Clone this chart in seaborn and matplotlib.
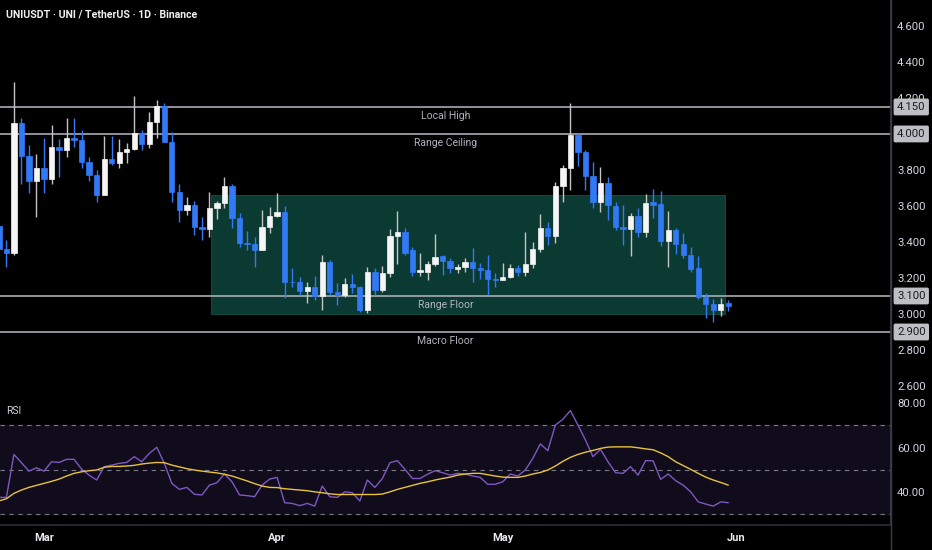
import numpy as np
import pandas as pd
import matplotlib
matplotlib.use("Agg")
import matplotlib.pyplot as plt
import matplotlib.dates as mdates
from matplotlib.patches import Rectangle
import seaborn as sns

# daily candles, 23 Feb - 31 May
dates = pd.date_range("2025-02-23", periods=98, freq="D")

opens = [3.49, 3.36, 3.34, 4.06, 3.88, 3.74, 3.81, 3.75, 3.93, 3.91,
         3.98, 3.965, 3.845, 3.77, 3.66, 3.86, 3.84, 3.90, 3.915, 4.005,
         3.945, 4.065, 4.155, 3.955, 3.68, 3.58, 3.605, 3.485, 3.47, 3.59,
         3.615, 3.71, 3.535, 3.395, 3.39, 3.355, 3.485, 3.545, 3.565, 3.18,
         3.175, 3.13, 3.15, 3.10, 3.29, 3.12, 3.105, 3.165, 3.15, 3.02,
         3.235, 3.135, 3.23, 3.435, 3.455, 3.355, 3.235, 3.235, 3.28, 3.32,
         3.295, 3.25, 3.26, 3.29, 3.255, 3.245, 3.195, 3.19, 3.205, 3.255,
         3.235, 3.28, 3.36, 3.48, 3.435, 3.71, 3.81, 3.995, 3.90, 3.765,
         3.62, 3.73, 3.60, 3.485, 3.47, 3.545, 3.455, 3.62, 3.61, 3.405,
         3.465, 3.39, 3.33, 3.255, 3.095, 3.055, 3.02, 3.06]
highs = [3.52, 3.41, 4.29, 4.09, 3.94, 3.89, 3.98, 4.05, 3.97, 4.09,
         4.09, 4.02, 3.87, 3.80, 3.99, 3.99, 3.97, 3.95, 4.21, 4.02,
         4.12, 4.19, 4.17, 4.01, 3.72, 3.65, 3.63, 3.54, 3.68, 3.63,
         3.76, 3.72, 3.56, 3.46, 3.43, 3.58, 3.595, 3.67, 3.60, 3.255,
         3.205, 3.18, 3.21, 3.33, 3.30, 3.17, 3.20, 3.22, 3.155, 3.26,
         3.255, 3.265, 3.47, 3.57, 3.48, 3.37, 3.34, 3.295, 3.445, 3.33,
         3.31, 3.28, 3.31, 3.365, 3.285, 3.33, 3.23, 3.285, 3.28, 3.27,
         3.455, 3.40, 3.555, 3.51, 3.735, 3.83, 4.17, 4.005, 3.91, 3.845,
         3.815, 3.76, 3.62, 3.605, 3.56, 3.59, 3.665, 3.695, 3.685, 3.57,
         3.48, 3.45, 3.37, 3.32, 3.115, 3.085, 3.09, 3.08]
lows = [3.33, 3.26, 3.33, 3.72, 3.67, 3.54, 3.67, 3.72, 3.76, 3.87,
        3.93, 3.81, 3.74, 3.62, 3.66, 3.83, 3.81, 3.84, 3.91, 3.91,
        3.92, 3.98, 3.955, 3.62, 3.51, 3.55, 3.44, 3.41, 3.43, 3.53,
        3.59, 3.48, 3.37, 3.355, 3.26, 3.355, 3.45, 3.54, 3.09, 3.15,
        3.105, 3.06, 3.08, 3.02, 3.105, 3.05, 3.095, 3.115, 3.01, 3.005,
        3.105, 3.12, 3.205, 3.28, 3.33, 3.21, 3.21, 3.19, 3.265, 3.215,
        3.23, 3.23, 3.235, 3.18, 3.195, 3.105, 3.15, 3.19, 3.20, 3.21,
        3.21, 3.255, 3.345, 3.385, 3.395, 3.62, 3.69, 3.82, 3.69, 3.59,
        3.565, 3.52, 3.465, 3.385, 3.32, 3.43, 3.43, 3.535, 3.38, 3.26,
        3.335, 3.31, 3.235, 3.085, 2.98, 2.955, 2.99, 3.015]
closes = [3.36, 3.34, 4.06, 3.88, 3.74, 3.81, 3.75, 3.93, 3.91, 3.98,
          3.965, 3.845, 3.77, 3.66, 3.86, 3.84, 3.90, 3.915, 4.005, 3.945,
          4.065, 4.155, 3.955, 3.68, 3.58, 3.605, 3.485, 3.47, 3.59, 3.615,
          3.71, 3.535, 3.395, 3.39, 3.355, 3.485, 3.545, 3.565, 3.18, 3.175,
          3.13, 3.15, 3.10, 3.29, 3.12, 3.105, 3.165, 3.15, 3.02, 3.235,
          3.135, 3.23, 3.435, 3.455, 3.34, 3.235, 3.245, 3.28, 3.315, 3.295,
          3.255, 3.26, 3.29, 3.255, 3.245, 3.195, 3.19, 3.205, 3.255, 3.235,
          3.28, 3.36, 3.48, 3.435, 3.71, 3.81, 3.995, 3.90, 3.765, 3.62,
          3.73, 3.605, 3.485, 3.47, 3.545, 3.455, 3.615, 3.605, 3.405, 3.465,
          3.39, 3.33, 3.25, 3.095, 3.055, 3.02, 3.055, 3.045]

rsi = [37.6, 37.6, 56.9, 53.2, 49.4, 50.9, 49.4, 53.6, 53.3, 54.7,
       54.7, 50.3, 47.6, 45.4, 51.4, 52.1, 52.9, 53.3, 55.9, 53.6,
       57.4, 60.1, 52.9, 43.9, 41.2, 42.1, 39.0, 38.7, 43.1, 44.2,
       48.1, 44.6, 38.7, 38.4, 37.9, 43.1, 45.8, 46.6, 35.2, 34.9,
       33.9, 34.9, 33.7, 42.7, 37.9, 37.6, 40.1, 39.7, 36.0, 45.4,
       42.1, 46.1, 53.2, 54.1, 50.2, 46.1, 46.1, 48.0, 49.6, 48.7,
       47.6, 48.4, 48.1, 47.2, 46.6, 43.5, 43.5, 44.6, 48.1, 47.2,
       49.9, 55.1, 61.6, 58.6, 70.1, 72.7, 76.6, 70.1, 63.4, 55.9,
       59.2, 53.6, 48.7, 48.4, 51.4, 47.6, 54.1, 54.0, 45.7, 48.1,
       45.1, 43.1, 40.1, 35.6, 34.6, 33.7, 35.6, 35.2]
rsi_ma = [36.0, 37.0, 39.4, 40.9, 42.1, 43.0, 43.9, 44.8, 45.8, 47.2,
          48.4, 49.1, 49.6, 49.9, 51.1, 51.5, 51.5, 51.7, 52.0, 52.6,
          53.0, 53.3, 53.2, 52.1, 51.3, 50.5, 49.9, 49.4, 49.0, 48.6,
          48.0, 47.2, 46.1, 45.0, 43.8, 42.7, 42.1, 42.0, 41.5, 41.2,
          40.9, 40.6, 40.1, 39.7, 39.2, 38.9, 38.9, 38.9, 38.9, 38.9,
          38.9, 39.1, 40.1, 41.2, 42.1, 43.0, 43.9, 44.6, 45.4, 46.1,
          46.7, 47.6, 48.1, 48.4, 48.4, 47.8, 47.2, 46.7, 46.6, 46.6,
          47.2, 48.1, 48.8, 49.9, 51.7, 53.8, 55.6, 56.9, 57.9, 58.7,
          59.6, 60.2, 60.3, 60.3, 60.3, 59.9, 59.4, 59.0, 57.6, 55.9,
          53.6, 51.9, 50.2, 48.4, 46.7, 45.4, 44.3, 43.1]

levels = [4.15, 4.00, 3.10, 2.90]
level_names = ["Local High", "Range Ceiling", "Range Floor", "Macro Floor"]
zone_start = pd.Timestamp("2025-03-23 05:00")
zone_end = pd.Timestamp("2025-05-30 13:00")
zone_low, zone_high = 3.00, 3.66

month_ticks = pd.to_datetime(["2025-03-01", "2025-04-01", "2025-05-01", "2025-06-01"])
month_labels = ["Mar", "Apr", "May", "Jun"]

BG = "#000000"
UP = "#f5f5f5"
DOWN = "#3179f5"
TXT = "#d1d4dc"

sns.set_theme(style="dark", rc={"axes.facecolor": BG, "figure.facecolor": BG})
plt.rcParams["font.family"] = ["Roboto", "DejaVu Sans"]

df = pd.DataFrame({"date": dates, "open": opens, "high": highs,
                   "low": lows, "close": closes, "rsi": rsi, "rsi_ma": rsi_ma})
df["x"] = mdates.date2num(df["date"])
df["up"] = df["close"] >= df["open"]

fig = plt.figure(figsize=(9.32, 5.5), dpi=100)
W, H = 932, 550
ax = fig.add_axes([0, 1 - 395 / H, 891 / W, 395 / H])
ax2 = fig.add_axes([0, 25 / H, 891 / W, 130 / H], sharex=ax)

# candles
for up, body_col, wick_col in [(True, UP, "#c4c4c4"), (False, DOWN, DOWN)]:
    d = df[df["up"] == up]
    ax.vlines(d["x"], d["low"], d["high"], color=wick_col, lw=1, zorder=3)
    ax.bar(d["x"], d["close"] - d["open"], bottom=d["open"], width=0.7,
           color=body_col, edgecolor=body_col, linewidth=0.5, zorder=4)

ax.add_patch(Rectangle((mdates.date2num(zone_start), zone_low),
                       mdates.date2num(zone_end) - mdates.date2num(zone_start),
                       zone_high - zone_low, facecolor="#0b3a32",
                       edgecolor="#12483f", lw=0.8, zorder=1))

for lvl, name in zip(levels, level_names):
    ax.axhline(lvl, color="#a8abb2", lw=1.2, zorder=2)
    ax.annotate(name, xy=(0.5, lvl), xycoords=ax.get_yaxis_transform(),
                xytext=(0, -9), textcoords="offset pixels", ha="center",
                va="center", color="#b2b5be", fontsize=7.5, zorder=5)
    ax.annotate(f"{lvl:.3f}", xy=(1, lvl), xycoords=ax.get_yaxis_transform(),
                xytext=(6, 0), textcoords="offset pixels", ha="left",
                va="center", color="#1a1c22", fontsize=8.2, zorder=10,
                annotation_clip=False,
                bbox=dict(boxstyle="round,pad=0.3,rounding_size=0.15",
                          facecolor="#bdbfc4", edgecolor="none"))

x0 = mdates.date2num(pd.Timestamp("2025-03-01"))
ax.set_xlim(x0 - 44 / 7.52, x0 + 847 / 7.52)
ax.set_ylim(2.55, 4.744)
ax.set_yticks(np.arange(2.6, 4.61, 0.2))
ax.yaxis.set_major_formatter(plt.FuncFormatter(lambda v, p: f"{v:.3f}"))

# RSI pane
ax2.axhspan(30, 70, color="#100c1c", zorder=0)
for lvl in [70, 50, 30]:
    ax2.axhline(lvl, color="#787b86", lw=0.8, dashes=(4, 4), zorder=1)
sns.lineplot(data=df, x="x", y="rsi", ax=ax2, color="#7e57c2", lw=1, zorder=3)
sns.lineplot(data=df, x="x", y="rsi_ma", ax=ax2, color="#e9c23c", lw=1, zorder=4)
ax2.set_ylim(25.2, 83.6)
ax2.set_yticks([40, 60, 80])
ax2.yaxis.set_major_formatter(plt.FuncFormatter(lambda v, p: f"{v:.2f}"))
ax2.text(6 / 891, 1 - 16 / 130, "RSI", transform=ax2.transAxes,
         color=TXT, fontsize=7.5, va="center")
ax2.set_xticks(mdates.date2num(month_ticks))
ax2.set_xticklabels(month_labels)

for a in (ax, ax2):
    a.set_xlabel("")
    a.set_ylabel("")
    a.grid(False)
    a.yaxis.tick_right()
    a.tick_params(axis="y", length=0, pad=4.3, labelsize=8.2, labelcolor=TXT)
    for s in ["top", "left"]:
        a.spines[s].set_visible(False)
    a.spines["right"].set_color("#3a3d45")
    a.spines["bottom"].set_visible(False)
ax.tick_params(axis="x", length=0, labelbottom=False)
ax2.spines["bottom"].set_visible(True)
ax2.spines["bottom"].set_color("#2a2d35")
ax2.tick_params(axis="x", length=0, pad=6, labelsize=8, labelcolor="#e8eaf0")
for t in ax2.get_xticklabels():
    t.set_fontweight("bold")

# extend right axis line over the date strip
fig.add_artist(plt.Line2D([891 / W, 891 / W], [0, 1], color="#3a3d45", lw=1))

fig.text(6 / W, 1 - 14 / H, "UNIUSDT · UNI / TetherUS · 1D · Binance",
         color="#f0f0f0", fontsize=7.6, fontweight="bold", va="center")

fig.savefig("out.png", dpi=100, facecolor=BG)
